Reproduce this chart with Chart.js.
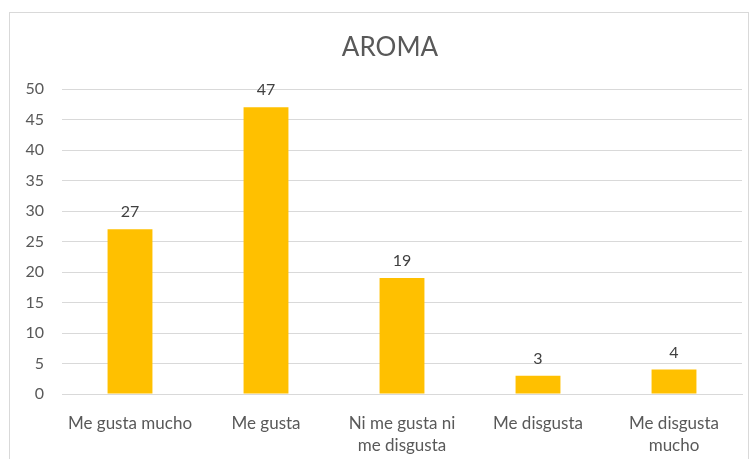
<!DOCTYPE html>
<html>
<head>
<meta charset="utf-8">
<script src="https://cdn.jsdelivr.net/npm/chart.js@4"></script>
<style>
  body { margin: 0; background: #fff; }
  #wrap { position: relative; width: 752px; height: 459px; overflow: hidden; }
  #frame { position: absolute; left: 9px; top: 12px; width: 740px; height: 470px; border: 1px solid #d9d9d9; box-sizing: border-box; }
  canvas { position: absolute; left: 0; top: 0; }
</style>
</head>
<body>
<div id="wrap">
  <div id="frame"></div>
  <canvas id="myChart" width="752" height="459"></canvas>
</div>
<script>
// data
const categories = [
  'Me gusta mucho',
  'Me gusta',
  ['Ni me gusta ni', 'me disgusta'],
  'Me disgusta',
  ['Me disgusta', 'mucho']
]
const values = [27, 47, 19, 3, 4]
const chartTitle = 'AROMA'

const textColor = '#595959'
const fontFamily = 'Lato, "Noto Sans", sans-serif'

// value labels above each bar
const barLabels = {
  id: 'barLabels',
  afterDatasetsDraw(chart) {
    const ctx = chart.ctx
    const meta = chart.getDatasetMeta(0)
    ctx.save()
    ctx.font = '16px ' + fontFamily
    ctx.fillStyle = '#404040'
    ctx.textAlign = 'center'
    ctx.textBaseline = 'bottom'
    meta.data.forEach((bar, i) => {
      ctx.fillText(values[i], bar.x, bar.y - 9)
    })
    ctx.restore()
  }
}

// title sits a bit right of the canvas centre, like the frame in the original
const titlePlugin = {
  id: 'titlePlugin',
  afterDraw(chart) {
    const ctx = chart.ctx
    ctx.save()
    ctx.font = '26px ' + fontFamily
    ctx.fillStyle = textColor
    ctx.textAlign = 'center'
    ctx.textBaseline = 'middle'
    ctx.fillText(chartTitle, 390, 48)
    ctx.restore()
  }
}

const context = document.getElementById('myChart').getContext('2d')
const myChart = new Chart(context, {
  type: 'bar',
  data: {
    labels: categories,
    datasets: [{
      data: values,
      backgroundColor: '#ffc000',
      borderWidth: 0,
      barPercentage: 0.33,
      categoryPercentage: 1
    }]
  },
  options: {
    responsive: false,
    animation: false,
    layout: { padding: { left: 0, right: 10, top: 89, bottom: 0 } },
    plugins: {
      legend: { display: false },
      tooltip: { enabled: false },
      title: { display: false }
    },
    scales: {
      y: {
        min: 0,
        max: 50,
        ticks: {
          stepSize: 5,
          color: textColor,
          padding: 18,
          font: { family: fontFamily, size: 16 }
        },
        grid: { color: '#d9d9d9', drawTicks: false },
        border: { display: false },
        afterFit(scale) { scale.width = 62 }
      },
      x: {
        ticks: {
          color: textColor,
          padding: 18,
          maxRotation: 0,
          autoSkip: false,
          font: { family: fontFamily, size: 17, lineHeight: 1.3 }
        },
        grid: { display: false, drawTicks: false },
        border: { color: '#d9d9d9' },
        afterFit(scale) { scale.height = 65 }
      }
    }
  },
  plugins: [barLabels, titlePlugin]
})
</script>
</body>
</html>
